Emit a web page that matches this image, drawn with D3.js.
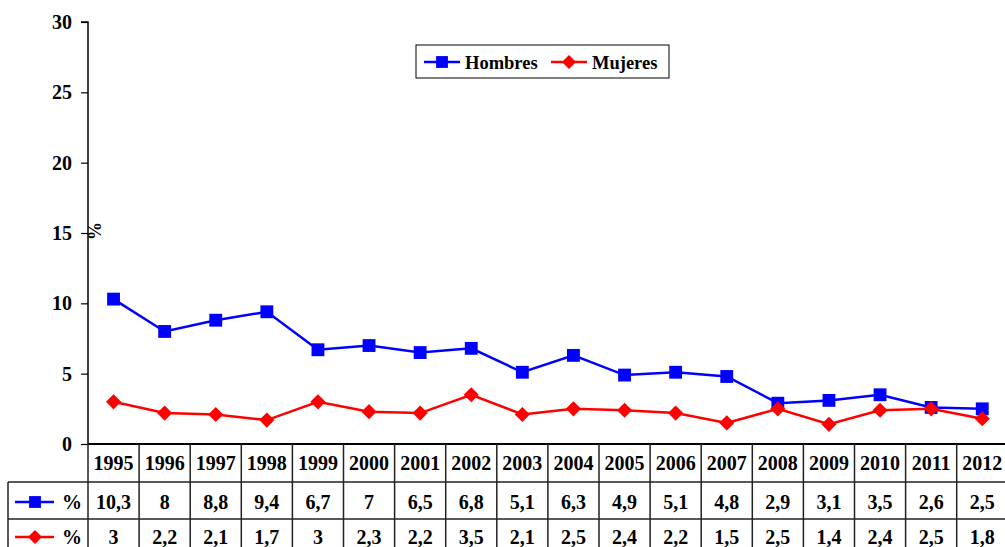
<!DOCTYPE html>
<html>
<head>
<meta charset="utf-8">
<script src="https://cdn.jsdelivr.net/npm/d3@7"></script>
<style>
  body { margin: 0; background: #fff; }
  svg { display: block; font-family: "Liberation Serif", "Times New Roman", serif; font-weight: bold; }
</style>
</head>
<body>
<svg id="chart" width="1005" height="547"></svg>
<script>
const years = ["1995","1996","1997","1998","1999","2000","2001","2002","2003","2004","2005","2006","2007","2008","2009","2010","2011","2012"]
const hombres = [10.3, 8, 8.8, 9.4, 6.7, 7, 6.5, 6.8, 5.1, 6.3, 4.9, 5.1, 4.8, 2.9, 3.1, 3.5, 2.6, 2.5]
const mujeres = [3, 2.2, 2.1, 1.7, 3, 2.3, 2.2, 3.5, 2.1, 2.5, 2.4, 2.2, 1.5, 2.5, 1.4, 2.4, 2.5, 1.8]
const yTicks = [0, 5, 10, 15, 20, 25, 30]
const seriesNames = ["Hombres", "Mujeres"]

const svg = d3.select("#chart")
const plotLeft = 88, colW = 51.1
const plotRight = plotLeft + colW * years.length
const plotTop = 22, zeroY = 444
const row1 = 482, row2 = 519, row3 = 556
const fs = 20

const x = d3.scaleBand().domain(years).range([plotLeft, plotRight])
const y = d3.scaleLinear().domain([0, 30]).range([zeroY, plotTop])
const fmt = v => String(v).replace(".", ",")

// square rotated 45 degrees, like the office-chart diamond
const squareDiamond = {
  draw(ctx, size) {
    const r = Math.sqrt(size / 2)
    ctx.moveTo(0, -r); ctx.lineTo(r, 0); ctx.lineTo(0, r); ctx.lineTo(-r, 0); ctx.closePath()
  }
}

// y axis
const yAxis = d3.axisLeft(y).tickValues(yTicks).tickSize(7).tickPadding(9).tickFormat(d3.format("d"))
const ag = svg.append("g").attr("transform", `translate(${plotLeft},0)`).call(yAxis)
ag.attr("font-family", null).attr("font-size", null)
ag.select(".domain").attr("stroke", "#000").attr("stroke-width", 1.5).attr("d", `M-7,${plotTop}H0V${zeroY}`)
ag.selectAll(".tick line").attr("stroke", "#000").attr("stroke-width", 1.2)
ag.selectAll(".tick text")
  .attr("fill", "#000").attr("font-size", fs)
  .attr("dy", "0.33em")

svg.append("text")
  .attr("transform", "translate(101,231) rotate(-90)")
  .attr("text-anchor", "middle").attr("font-size", 18).text("%")

// series
const series = [
  {name: seriesNames[0], values: hombres, color: "#0000ff", shape: d3.symbolSquare, size: 165},
  {name: seriesNames[1], values: mujeres, color: "#ff0000", shape: squareDiamond, size: 115}
]
const cx = d => x(d) + x.bandwidth() / 2
const line = d3.line().x((d, i) => cx(years[i])).y(d => y(d))

series.forEach(s => {
  svg.append("path").datum(s.values)
    .attr("fill", "none").attr("stroke", s.color).attr("stroke-width", 2.5).attr("d", line)
  svg.selectAll(null).data(s.values).enter().append("path")
    .attr("transform", (d, i) => `translate(${cx(years[i])},${y(d)})`)
    .attr("d", d3.symbol().type(s.shape).size(s.size))
    .attr("fill", s.color)
})

// legend
const lg = svg.append("g")
lg.append("rect").attr("x", 416).attr("y", 45).attr("width", 253).attr("height", 33)
  .attr("fill", "#fff").attr("stroke", "#000").attr("stroke-width", 1)
const legX = [424, 551]
series.forEach((s, i) => {
  const g = lg.append("g").attr("transform", `translate(${legX[i]},62)`)
  g.append("line").attr("x1", 0).attr("x2", 36).attr("stroke", s.color).attr("stroke-width", 2.5)
  g.append("path").attr("transform", "translate(18,0)")
    .attr("d", d3.symbol().type(s.shape).size(s.size * 0.85)).attr("fill", s.color)
  g.append("text").attr("x", 41).attr("y", 6.5).attr("font-size", 18.5).text(s.name)
})

// data table
const tg = svg.append("g")
const tStroke = "#222"
tg.append("line").attr("x1", plotLeft).attr("x2", plotRight).attr("y1", zeroY).attr("y2", zeroY)
  .attr("stroke", "#000").attr("stroke-width", 2)
;[row1, row2].forEach(yy => {
  tg.append("line").attr("x1", 8).attr("x2", plotRight).attr("y1", yy).attr("y2", yy)
    .attr("stroke", tStroke).attr("stroke-width", 1.5)
})
tg.append("line").attr("x1", 8).attr("x2", 8).attr("y1", row1).attr("y2", row3)
  .attr("stroke", tStroke).attr("stroke-width", 1.5)
years.forEach(yr => {
  tg.append("line").attr("x1", x(yr)).attr("x2", x(yr)).attr("y1", zeroY).attr("y2", row3)
    .attr("stroke", tStroke).attr("stroke-width", 1.5)
})
tg.append("line").attr("x1", plotRight).attr("x2", plotRight).attr("y1", zeroY).attr("y2", row3)
  .attr("stroke", tStroke).attr("stroke-width", 1.5)

tg.selectAll(".yr").data(years).enter().append("text")
  .attr("x", d => cx(d)).attr("y", 470).attr("text-anchor", "middle").attr("font-size", fs).text(d => d)

const rowBase = [509, 544]
series.forEach((s, i) => {
  const rb = rowBase[i]
  const g = tg.append("g").attr("transform", `translate(15,${rb - 7})`)
  g.append("line").attr("x1", 0).attr("x2", 39).attr("stroke", s.color).attr("stroke-width", 2.5)
  g.append("path").attr("transform", "translate(20,0)")
    .attr("d", d3.symbol().type(s.shape).size(s.size * 0.85)).attr("fill", s.color)
  tg.append("text").attr("x", 62).attr("y", rb).attr("font-size", fs).text("%")
  tg.selectAll(null).data(s.values).enter().append("text")
    .attr("x", (d, j) => cx(years[j])).attr("y", rb).attr("text-anchor", "middle")
    .attr("font-size", fs).text(d => fmt(d))
})
</script>
</body>
</html>
